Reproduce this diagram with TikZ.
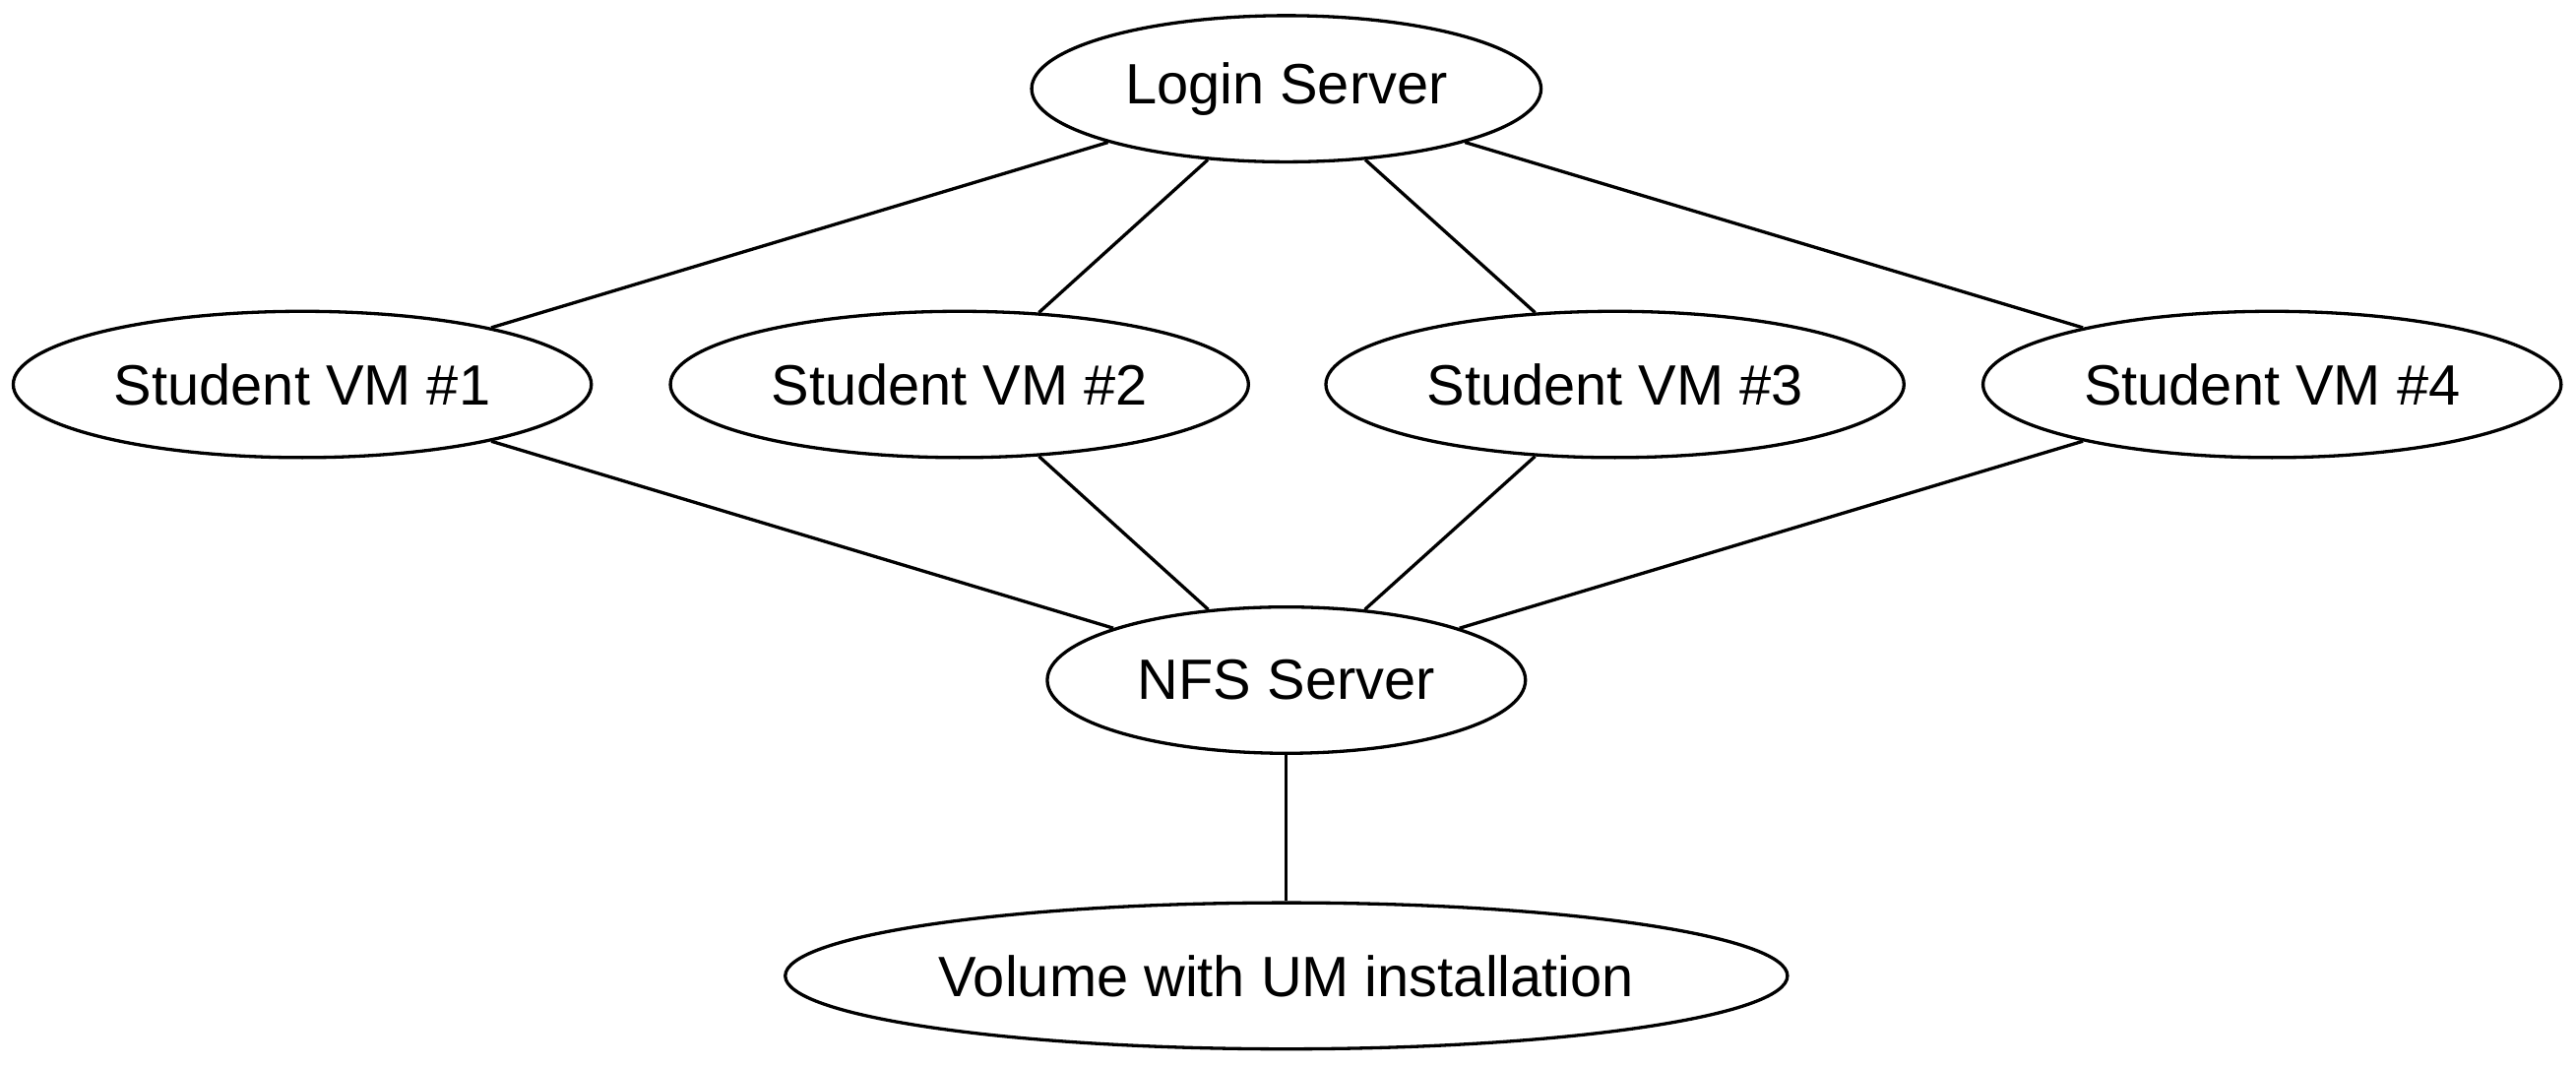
\documentclass[tikz,border=0pt]{standalone}
\usepackage{fontspec}
\setmainfont{Liberation Sans}
\usetikzlibrary{shapes.geometric}

\begin{document}
\begin{tikzpicture}[x=0.4044pt, y=-0.4044pt, line width=0.8pt,
    host/.style={draw, ellipse, inner sep=0pt, minimum height=36pt, font=\fontsize{14}{16}\selectfont}]
    \useasboundingbox (0,0) rectangle (1568,649);

    % Rechner
    \node[host, minimum width=125.4pt] (login) at (783,54) {Login Server};
    \node[host, minimum width=142.3pt] (vm1) at (184,234) {Student VM \#1};
    \node[host, minimum width=142.3pt] (vm2) at (584,234) {Student VM \#2};
    \node[host, minimum width=142.3pt] (vm3) at (983,234) {Student VM \#3};
    \node[host, minimum width=142.3pt] (vm4) at (1383,234) {Student VM \#4};
    \node[host, minimum width=117.7pt] (nfs) at (783,414) {NFS Server};
    \node[host, minimum width=246.7pt] (vol) at (783,594) {Volume with UM installation};

    % Verbindungen
    \foreach \vm in {vm1,vm2,vm3,vm4} {
        \draw (login) -- (\vm);
        \draw (\vm) -- (nfs);
    }
    \draw (nfs) -- (vol);
\end{tikzpicture}
\end{document}
